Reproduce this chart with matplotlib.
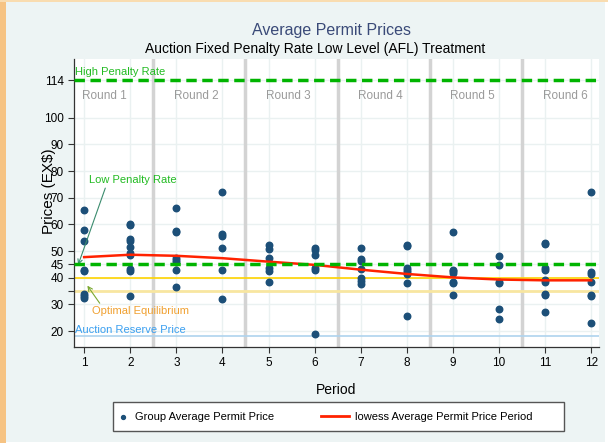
import matplotlib
matplotlib.use('Agg')
import matplotlib.pyplot as plt
from matplotlib.patches import Rectangle

plt.rcParams['font.family'] = ['Liberation Sans', 'DejaVu Sans']

# group average permit prices per period
periods = list(range(1, 13))
group_prices = [
    [65.5, 57.7, 53.6, 42.8, 42.4, 34.0, 33.1, 32.5],
    [60.2, 59.7, 54.4, 53.8, 51.5, 49.2, 48.6, 43.2, 42.6, 33.1],
    [66.3, 57.6, 57.2, 47.4, 46.7, 45.8, 43.0, 36.5],
    [72.1, 56.3, 55.5, 51.1, 43.0, 32.1],
    [52.2, 50.7, 47.2, 43.6, 42.6, 38.3],
    [51.0, 50.4, 48.4, 43.5, 43.0, 18.8],
    [51.2, 47.0, 46.2, 43.2, 40.0, 38.8, 37.5],
    [52.4, 52.0, 43.5, 42.8, 42.1, 41.5, 38.1, 25.7],
    [57.0, 42.9, 42.4, 41.6, 38.3, 37.9, 33.4],
    [48.0, 44.6, 38.3, 37.9, 28.2, 24.5],
    [53.1, 52.6, 43.5, 43.0, 39.0, 38.5, 34.0, 33.5, 27.3],
    [72.2, 42.0, 41.3, 38.5, 33.5, 33.0, 23.1],
]
lowess_fit = [47.7, 48.6, 48.2, 47.3, 46.0, 44.8, 43.0, 41.4, 40.1, 39.3, 39.0, 39.0]

high_penalty = 114
low_penalty = 45
optimal_eq = 40
optimal_eq2 = 35
reserve_price = 18

round_labels = ['Round 1', 'Round 2', 'Round 3', 'Round 4', 'Round 5', 'Round 6']
round_bounds = [2.5, 4.5, 6.5, 8.5, 10.5]
yticks = [20, 30, 35, 40, 45, 50, 60, 70, 80, 90, 100, 114]
ytick_labels = ['20', '30', '', '40', '45', '50', '60', '70', '80', '90', '100', '114']

xs = []
ys = []
for p, vals in zip(periods, group_prices):
    xs += [p] * len(vals)
    ys += vals

fig = plt.figure(figsize=(6.08, 4.43), dpi=100, facecolor='white')
# outer panel like the screenshot
fig.patches.append(Rectangle((0, 0), 6 / 608, 1, transform=fig.transFigure,
                             facecolor='#f6c383', edgecolor='none', zorder=-3))
fig.patches.append(Rectangle((0, 1 - 2 / 443), 1, 2 / 443, transform=fig.transFigure,
                             facecolor='#f9dcb0', edgecolor='none', zorder=-3))
fig.patches.append(Rectangle((6 / 608, 1 / 443), 599 / 608, 440 / 443, transform=fig.transFigure,
                             facecolor='#edf4f4', edgecolor='none', zorder=-2))
# legend box
fig.patches.append(Rectangle((113 / 608, 12 / 443), 451 / 608, 29 / 443, transform=fig.transFigure,
                             facecolor='white', edgecolor='#555555', lw=1, zorder=1))

ax = fig.add_axes([74 / 608, 1 - 347 / 443, 525 / 608, 288 / 443])
ax.set_facecolor('white')

ax.set_xlim(0.78, 12.17)
ax.set_ylim(14, 122)

for x in periods:
    ax.axvline(x, color='#eaf1f1', lw=1, zorder=0)
for y in yticks:
    ax.axhline(y, color='#eaf1f1', lw=1, zorder=0)
for b in round_bounds:
    ax.axvline(b, color='#d3d3d3', lw=2.5, zorder=1)

ax.axhline(reserve_price, color='#aed3ee', lw=1.2, zorder=2)
ax.axhline(optimal_eq2, color='#f8e6a0', lw=2, zorder=2)
ax.axhline(optimal_eq, color='#ffd400', lw=1.2, zorder=2)

ax.scatter(xs, ys, s=22, color='#1c4f78', zorder=3, label='Group Average Permit Price')
ax.plot(periods, lowess_fit, color='#ff2200', lw=1.8, zorder=4,
        label='lowess Average Permit Price Period')

ax.axhline(high_penalty, color='#00b400', lw=2.5, ls=(0, (3, 1.6)), zorder=5)
ax.axhline(low_penalty, color='#00b400', lw=2.5, ls=(0, (3, 1.6)), zorder=5)

for i, lab in enumerate(round_labels):
    ax.text(1.43 + 2 * i, 108, lab, color='#9a9a9a', fontsize=8.5, ha='center', va='center')

ax.text(0.8, 117.3, 'High Penalty Rate', color='#22bb22', fontsize=8, ha='left', va='center')
ax.annotate('Low Penalty Rate', xy=(0.87, 44.8), xytext=(1.1, 76.5), color='#22bb22',
            fontsize=8, ha='left', va='center',
            arrowprops=dict(arrowstyle='->', color='#3b8c6e', lw=0.8,
                            shrinkA=0, shrinkB=0, relpos=(0.2, 0)))
ax.annotate('Optimal Equilibrium', xy=(1.07, 37.0), xytext=(1.17, 27.5), color='#f0a030',
            fontsize=8, ha='left', va='center',
            arrowprops=dict(arrowstyle='->', color='#7aa830', lw=0.8,
                            shrinkA=0, shrinkB=0, relpos=(0.1, 1)))
ax.text(0.8, 20.4, 'Auction Reserve Price', color='#3a9ff0', fontsize=8, ha='left', va='center')

ax.set_xticks(periods)
ax.set_yticks(yticks)
ax.set_yticklabels(ytick_labels)
ax.tick_params(axis='both', labelsize=8.5, length=4, width=0.8, color='#333333', direction='out')
for s in ['top', 'right']:
    ax.spines[s].set_visible(False)
for s in ['left', 'bottom']:
    ax.spines[s].set_color('#333333')
    ax.spines[s].set_linewidth(0.9)

ax.set_xlabel('Period', fontsize=10, labelpad=10)
ax.set_ylabel('Prices (EX$)', fontsize=11)
ax.yaxis.set_label_coords(-0.035, 0.54)

fig.text(332 / 608, 1 - 31 / 443, 'Average Permit Prices', fontsize=11.5, color='#3a4a78',
         ha='center', va='center')
fig.text(315 / 608, 1 - 49 / 443, 'Auction Fixed Penalty Rate Low Level (AFL) Treatment',
         fontsize=10, color='black', ha='center', va='center')

leg = fig.legend(loc='center left', bbox_to_anchor=(116 / 608, 1 - 416.5 / 443),
                 ncol=2, fontsize=8, frameon=False, markerscale=0.6,
                 handlelength=1.2, handletextpad=0.49, columnspacing=5.6,
                 borderpad=0, borderaxespad=0)
# make the lowess handle longer, like the original key
line_h = leg.legend_handles[1]
xd = list(line_h.get_xdata())
n = len(xd)
x0, x1 = xd[0] - 11, xd[-1]
line_h.set_xdata([x0 + (x1 - x0) * i / (n - 1) for i in range(n)])
line_h.set_linewidth(2)

fig.savefig('out.png', dpi=100, facecolor=fig.get_facecolor())
